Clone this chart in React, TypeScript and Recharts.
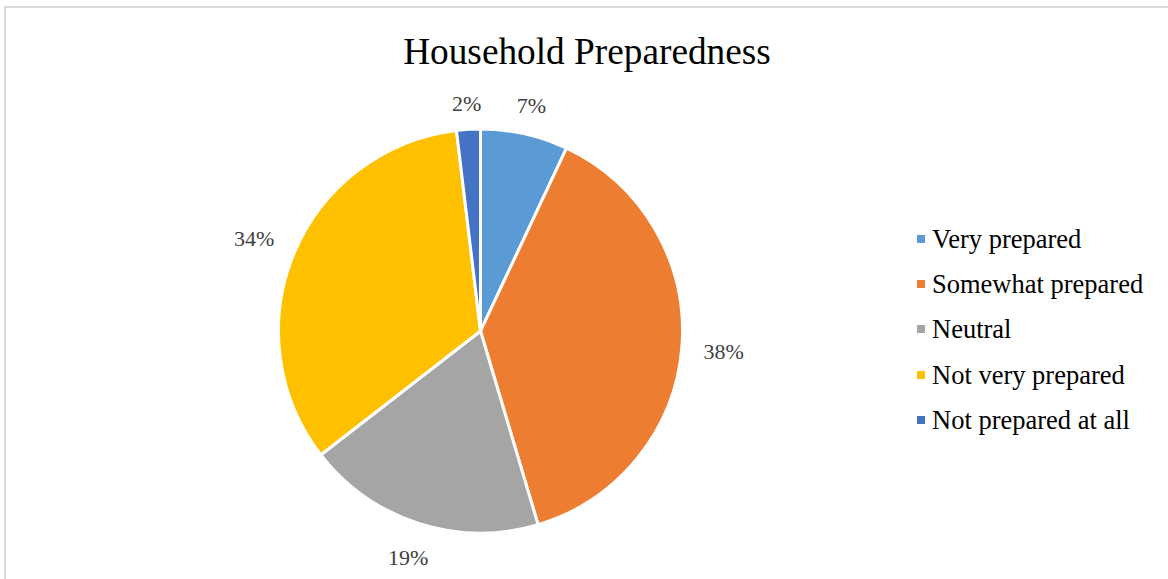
import { PieChart, Pie, Cell, Legend } from 'recharts';

const categories = ['Very prepared', 'Somewhat prepared', 'Neutral', 'Not very prepared', 'Not prepared at all'];
const shares = [7.0, 38.4, 19.1, 33.6, 1.9];
const COLORS = ['#5B9BD5', '#ED7D31', '#A5A5A5', '#FFC000', '#4472C4'];

const data = categories.map((name, i) => ({ name, value: shares[i] }));

const RAD = Math.PI / 180;
const FONT = '"Liberation Serif", "Times New Roman", serif';

const renderLabel = (props: any) => {
  const { cx, cy, midAngle, outerRadius, value } = props;
  const text = `${Math.round(value)}%`;
  const w = text.length * 11 + 7;
  const h = 22;
  const c = Math.cos(-midAngle * RAD);
  const s = Math.sin(-midAngle * RAD);
  const r = outerRadius + 16 + (w / 2 + 5) * Math.abs(c) + (h / 2) * Math.abs(s);
  return (
    <text
      x={cx + r * c}
      y={cy + r * s + 2}
      textAnchor="middle"
      dominantBaseline="central"
      fill="#404040"
      fontSize={22}
      fontFamily={FONT}
    >
      {text}
    </text>
  );
};

const renderLegend = () => (
  <ul style={{ listStyle: 'none', margin: 0, padding: 0, fontFamily: FONT }}>
    {data.map((d, i) => (
      <li key={d.name} style={{ display: 'flex', alignItems: 'center', height: 45.3 }}>
        <span style={{ width: 8, height: 8, background: COLORS[i], marginRight: 7, display: 'inline-block' }} />
        <span style={{ fontSize: 26.5, color: '#000', lineHeight: '30px' }}>{d.name}</span>
      </li>
    ))}
  </ul>
);

export default function App() {
  return (
    <div style={{ position: 'absolute', left: 0, top: 0, width: 1168, height: 579, overflow: 'hidden', background: '#fff' }}>
      <div
        style={{
          position: 'absolute',
          left: 4,
          top: 6,
          width: 1180,
          height: 600,
          border: '2px solid #d9d9d9',
        }}
      />
      <div
        style={{
          position: 'absolute',
          left: 0,
          width: 1174,
          top: 28,
          textAlign: 'center',
          fontFamily: FONT,
          fontSize: 37.3,
          lineHeight: '48px',
          color: '#000',
        }}
      >
        Household Preparedness
      </div>
      <div style={{ position: 'absolute', left: 0, top: 0 }}>
        <PieChart width={1168} height={579} margin={{ top: 0, right: 0, bottom: 0, left: 0 }}>
          <Pie
            data={data}
            dataKey="value"
            nameKey="name"
            cx={480.5}
            cy={331}
            outerRadius={202}
            startAngle={90}
            endAngle={-270}
            stroke="#fff"
            strokeWidth={3}
            label={renderLabel}
            labelLine={false}
            isAnimationActive={false}
          >
            {data.map((d, i) => (
              <Cell key={d.name} fill={COLORS[i]} />
            ))}
          </Pie>
          <Legend
            layout="vertical"
            content={renderLegend}
            wrapperStyle={{ position: 'absolute', left: 917, top: 216, width: 250 }}
          />
        </PieChart>
      </div>
    </div>
  );
}
